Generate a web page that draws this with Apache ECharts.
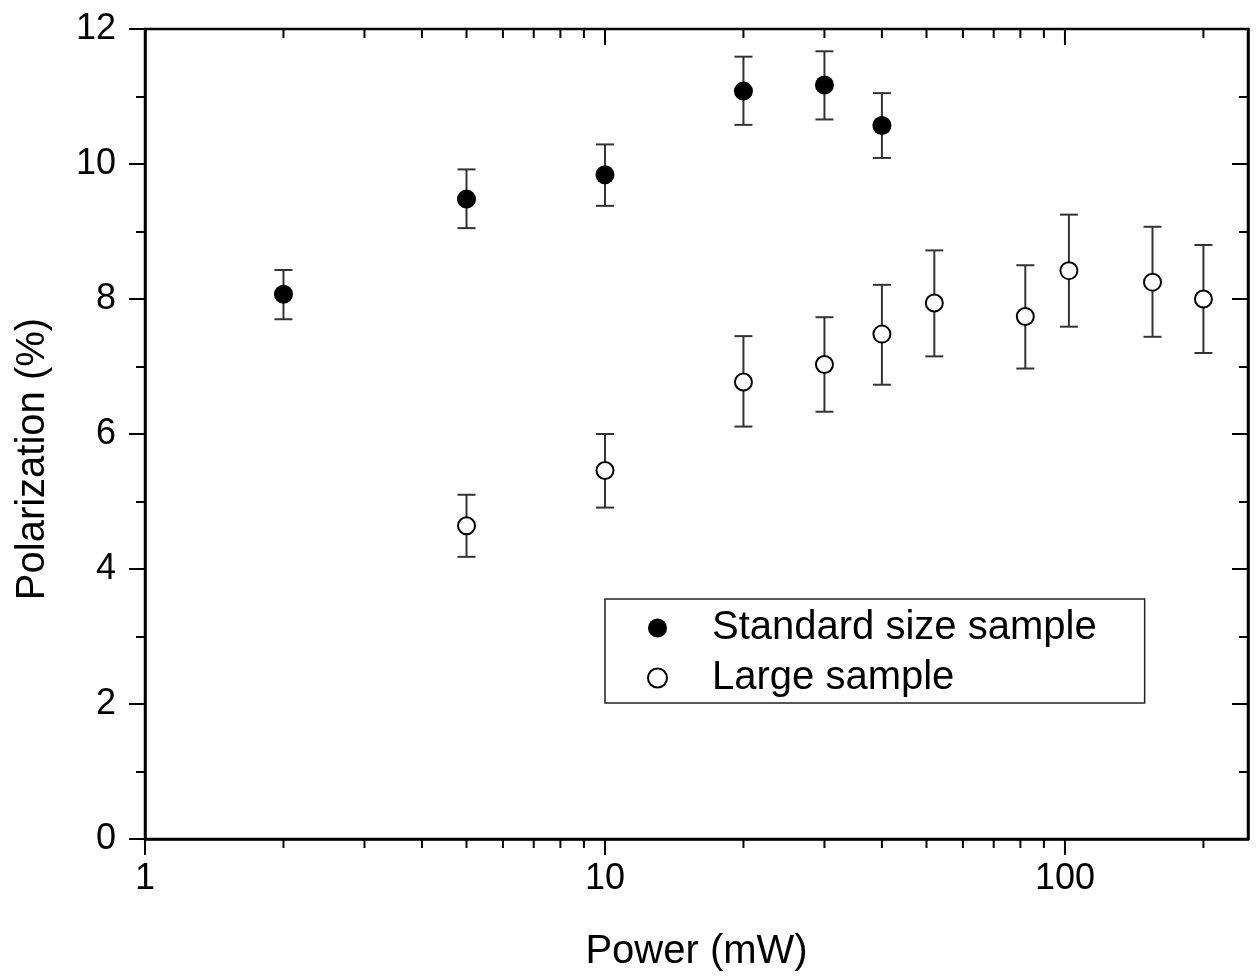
<!DOCTYPE html>
<html>
<head>
<meta charset="utf-8">
<script src="https://cdn.jsdelivr.net/npm/echarts@6/dist/echarts.min.js"></script>
<style>
html,body{margin:0;padding:0;background:#fff;}
#chart{width:1256px;height:980px;}
</style>
</head>
<body>
<div id="chart"></div>
<script>
// ---- data ----
const stdX    = [2, 5, 10, 20, 30, 40];
const stdY    = [8.07, 9.48, 9.84, 11.08, 11.17, 10.57];
const stdLow  = [7.70, 9.05, 9.38, 10.58, 10.66, 10.09];
const stdHigh = [8.43, 9.92, 10.29, 11.59, 11.67, 11.05];

const largeX    = [5, 10, 20, 30, 40, 52, 82, 102, 155, 200];
const largeY    = [4.64, 5.46, 6.77, 7.03, 7.48, 7.94, 7.74, 8.42, 8.25, 8.00];
const largeLow  = [4.18, 4.91, 6.11, 6.33, 6.73, 7.15, 6.97, 7.59, 7.44, 7.20];
const largeHigh = [5.10, 6.00, 7.45, 7.73, 8.21, 8.72, 8.50, 9.25, 9.07, 8.80];

const xMajorTicks = [1, 10, 100];
const xMinorTicks = [2, 3, 4, 5, 6, 7, 8, 9, 20, 30, 40, 50, 60, 70, 80, 90, 200];
const yTicks = [0, 2, 4, 6, 8, 10, 12];

const seriesNames = ['Standard size sample', 'Large sample'];
const xTitle = 'Power (mW)';
const yTitle = 'Polarization (%)';

// ---- build ----
const FONT = 'Liberation Sans, Arial, Helvetica, sans-serif';
const chart = echarts.init(document.getElementById('chart'), null, {renderer: 'canvas'});

function errData(xs, lo, hi) {
  return xs.map((x, i) => [x, lo[i], hi[i]]);
}
function errRender(params, api) {
  const x = api.value(0);
  const p1 = api.coord([x, api.value(1)]);
  const p2 = api.coord([x, api.value(2)]);
  const hw = 9;
  const st = {stroke: '#333', lineWidth: 2};
  return {
    type: 'group',
    children: [
      {type: 'line', shape: {x1: p1[0], y1: p1[1], x2: p2[0], y2: p2[1]}, style: st},
      {type: 'line', shape: {x1: p1[0] - hw, y1: p1[1], x2: p1[0] + hw, y2: p1[1]}, style: st},
      {type: 'line', shape: {x1: p2[0] - hw, y1: p2[1], x2: p2[0] + hw, y2: p2[1]}, style: st}
    ]
  };
}
const tickData = xMajorTicks.map(v => [v, 1]).concat(xMinorTicks.map(v => [v, 0]));
function tickRender(params, api) {
  const v = api.value(0);
  const major = api.value(1) === 1;
  const len = major ? 16 : 9;
  const b = api.coord([v, 0]);
  const t = api.coord([v, 12]);
  const st = {stroke: '#000', lineWidth: 2};
  return {
    type: 'group',
    children: [
      {type: 'line', shape: {x1: b[0], y1: b[1], x2: b[0], y2: b[1] + len}, style: st},
      {type: 'line', shape: {x1: t[0], y1: t[1], x2: t[0], y2: t[1] + len}, style: st}
    ]
  };
}

const option = {
  animation: false,
  backgroundColor: '#fff',
  grid: {
    left: 145, top: 29, right: 8, bottom: 141,
    show: true, borderColor: '#000', borderWidth: 2.5, backgroundColor: 'transparent'
  },
  legend: {
    orient: 'vertical',
    left: 605, top: 599,
    data: seriesNames,
    itemWidth: 19, itemHeight: 19,
    itemGap: 6,
    padding: [7, 48, 3, 42],
    borderColor: '#222', borderWidth: 1.5,
    backgroundColor: '#fff',
    selectedMode: false,
    textStyle: {fontFamily: FONT, fontSize: 40, color: '#000', lineHeight: 44, padding: [0, 0, 0, 40]}
  },
  xAxis: [{
    type: 'log', logBase: 10, min: 1, max: 250,
    position: 'bottom',
    name: xTitle, nameLocation: 'middle', nameGap: 93,
    nameTextStyle: {fontFamily: FONT, fontSize: 40, color: '#000'},
    axisLine: {show: true, lineStyle: {color: '#000', width: 2.5}},
    axisTick: {show: false},
    minorTick: {show: false},
    splitLine: {show: false},
    axisLabel: {
      show: true, margin: 22, fontFamily: FONT, fontSize: 36, color: '#000',
      showMinLabel: true, showMaxLabel: false,
      formatter: function (v) {
        const r = Math.round(v);
        return xMajorTicks.indexOf(r) >= 0 && Math.abs(v - r) < 1e-6 * Math.max(1, r) ? String(r) : '';
      }
    }
  }],
  yAxis: [{
    type: 'value', min: 0, max: 12, interval: 2,
    position: 'left',
    name: yTitle, nameLocation: 'middle', nameGap: 92,
    nameTextStyle: {fontFamily: FONT, fontSize: 40, color: '#000', padding: [0, 50, 0, 0]},
    axisLine: {show: true, lineStyle: {color: '#000', width: 2.5}},
    axisTick: {show: true, inside: false, length: 16, lineStyle: {color: '#000', width: 2}},
    minorTick: {show: true, splitNumber: 2, length: 9, lineStyle: {color: '#000', width: 2}},
    splitLine: {show: false},
    axisLabel: {show: true, margin: 29, fontFamily: FONT, fontSize: 36, color: '#000',
      formatter: v => (yTicks.indexOf(v) >= 0 ? String(v) : '')}
  }, {
    type: 'value', min: 0, max: 12, interval: 2,
    position: 'right',
    axisLine: {show: true, lineStyle: {color: '#000', width: 2.5}},
    axisTick: {show: true, inside: true, length: 16, lineStyle: {color: '#000', width: 2}},
    minorTick: {show: true, splitNumber: 2, length: 9, lineStyle: {color: '#000', width: 2}},
    splitLine: {show: false},
    axisLabel: {show: false}
  }],
  series: [
    {
      type: 'custom', name: 'xticks', xAxisIndex: 0, yAxisIndex: 0,
      data: tickData, renderItem: tickRender, clip: false, silent: true, z: 5,
      encode: {x: 0}
    },
    {
      type: 'custom', name: 'errStd', xAxisIndex: 0, yAxisIndex: 0,
      data: errData(stdX, stdLow, stdHigh), renderItem: errRender, silent: true, z: 2,
      encode: {x: 0, y: [1, 2]}
    },
    {
      type: 'custom', name: 'errLarge', xAxisIndex: 0, yAxisIndex: 0,
      data: errData(largeX, largeLow, largeHigh), renderItem: errRender, silent: true, z: 2,
      encode: {x: 0, y: [1, 2]}
    },
    {
      type: 'scatter', name: seriesNames[0], xAxisIndex: 0, yAxisIndex: 0,
      data: stdX.map((x, i) => [x, stdY[i]]),
      symbol: 'circle', symbolSize: 19,
      itemStyle: {color: '#000', opacity: 1},
      z: 4
    },
    {
      type: 'scatter', name: seriesNames[1], xAxisIndex: 0, yAxisIndex: 0,
      data: largeX.map((x, i) => [x, largeY[i]]),
      symbol: 'circle', symbolSize: 17,
      itemStyle: {color: '#fff', borderColor: '#000', borderWidth: 2, opacity: 1},
      z: 4
    }
  ]
};
chart.setOption(option);
</script>
</body>
</html>
